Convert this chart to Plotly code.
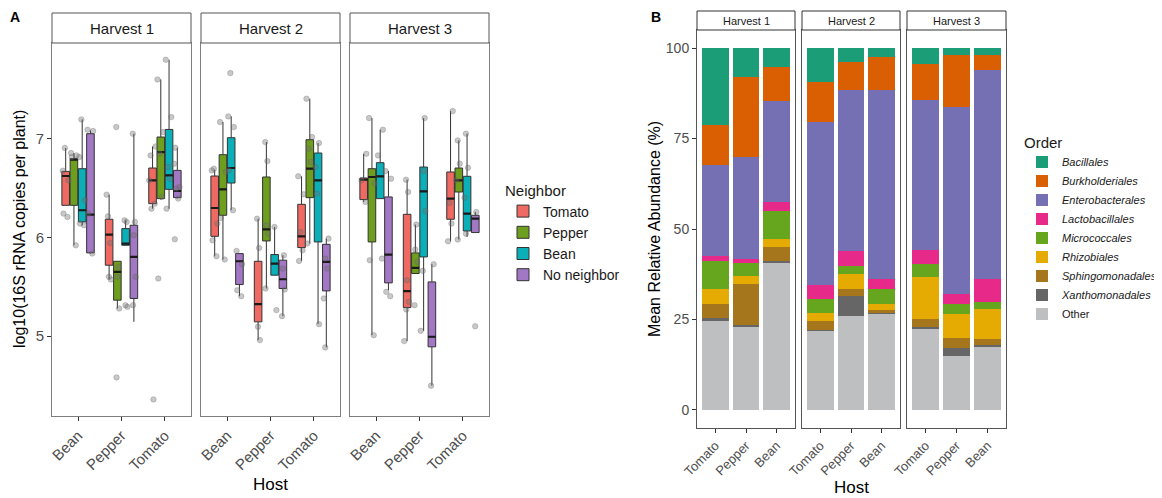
import plotly.graph_objects as go

# ---------------- DATA ----------------
harvests = ["Harvest 1", "Harvest 2", "Harvest 3"]
hosts_a = ["Bean", "Pepper", "Tomato"]
neighbors = ["Tomato", "Pepper", "Bean", "No neighbor"]
neighbor_colors = ["#EE6A62", "#6E9E1E", "#0AAFB8", "#A277C4"]

# box statistics, indexed [harvest][neighbor][host]
upper = [
    [[6.906, 6.433, 6.922], [6.855, 5.758, 7.601], [7.196, 6.173, 7.800], [7.084, 7.051, 6.909]],
    [[6.686, 6.190, 6.619], [7.169, 6.966, 7.405], [7.226, 6.106, 6.956], [5.836, 5.819, 5.988]],
    [[6.848, 6.585, 7.280], [7.209, 6.130, 6.983], [7.091, 7.209, 7.051], [6.673, 5.728, 6.258]],
]
q3 = [
    [[6.669, 6.184, 6.703], [6.798, 5.758, 7.017], [6.696, 6.089, 7.094], [7.051, 6.123, 6.679]],
    [[6.622, 5.758, 6.335], [6.838, 6.612, 6.990], [7.010, 5.826, 6.855], [5.836, 5.769, 5.930]],
    [[6.602, 6.234, 6.663], [6.696, 5.843, 6.703], [6.757, 6.713, 6.619], [6.410, 5.549, 6.224]],
]
median = [
    [[6.622, 6.028, 6.578], [6.787, 5.650, 6.865], [6.275, 5.937, 6.629], [6.231, 5.802, 6.470]],
    [[6.298, 5.323, 6.011], [6.487, 6.082, 6.696], [6.703, 5.735, 6.578], [5.758, 5.576, 5.752]],
    [[6.585, 5.455, 6.393], [6.612, 5.691, 6.578], [6.619, 6.467, 6.241], [5.826, 4.993, 6.190]],
]
q1 = [
    [[6.325, 5.718, 6.342], [6.325, 5.364, 6.393], [6.157, 5.920, 6.487], [5.843, 5.381, 6.403]],
    [[6.011, 5.144, 5.897], [6.224, 5.964, 6.403], [6.551, 5.617, 5.954], [5.522, 5.482, 5.458]],
    [[6.383, 5.289, 6.184], [5.954, 5.634, 6.460], [6.393, 5.802, 6.065], [5.539, 4.891, 6.049]],
]
lower = [
    [[6.325, 5.573, 6.291], [5.920, 5.279, 6.383], [6.123, 5.920, 6.291], [5.836, 5.144, 6.393]],
    [[5.809, 4.959, 5.762], [5.775, 5.482, 5.937], [6.275, 5.617, 5.121], [5.404, 5.202, 4.885]],
    [[6.359, 4.949, 5.961], [5.009, 5.634, 5.978], [6.393, 5.053, 6.005], [5.465, 4.497, 6.049]],
]
# individual plants, indexed [harvest][neighbor][host]
points = [
    [
        [[6.906, 6.676, 6.578, 6.241, 6.207], [6.433, 6.214, 5.944, 5.600, 5.573], [6.922, 6.831, 6.578, 6.342, 6.291, 4.358]],
        [[6.855, 6.831, 6.814, 5.920], [7.118, 5.701, 5.600, 5.279, 4.581], [7.601, 7.067, 6.848, 6.410, 5.583]],
        [[7.196, 6.814, 6.376, 6.140, 6.123], [6.173, 6.157, 5.313, 5.296], [7.800, 7.219, 6.713, 6.595, 6.291]],
        [[7.091, 7.078, 6.241, 5.836], [7.051, 6.157, 6.022, 5.600, 5.313], [6.909, 6.747, 6.511, 6.494, 6.393, 5.981]],
    ],
    [
        [[6.696, 6.679, 6.140, 5.971, 5.809], [6.190, 5.893, 5.094, 4.959], [6.619, 6.437, 6.055, 5.870, 5.762]],
        [[7.169, 6.663, 6.197, 5.775], [6.966, 6.774, 6.123, 6.038, 5.482], [7.405, 7.017, 6.899, 6.764, 5.937]],
        [[7.665, 7.226, 7.118, 6.680, 6.275], [6.106, 5.263], [6.956, 6.713, 6.443, 5.121]],
        [[5.863, 5.728, 5.465, 5.404], [5.819, 5.684, 5.472, 5.202], [5.988, 5.785, 5.684, 5.381, 4.885]],
    ],
    [
        [[6.848, 6.578, 6.359], [6.585, 6.460, 5.566, 5.347, 5.270, 4.949], [7.280, 6.349, 6.140, 5.961]],
        [[7.209, 6.545, 5.769, 5.009], [6.130, 5.877, 5.752, 5.313], [6.983, 6.747, 6.578, 5.978]],
        [[7.091, 6.831, 5.785], [7.209, 6.673, 6.268, 5.661, 5.053], [7.051, 6.706, 6.403, 6.038]],
        [[6.673, 6.595, 5.448, 5.404], [5.728, 4.497], [6.258, 5.100]],
    ],
]

# Panel B: mean relative abundance (%), indexed [harvest][host]
hosts_b = ["Tomato", "Pepper", "Bean"]
order_names = ["Bacillales", "Burkholderiales", "Enterobacterales", "Lactobacillales",
               "Micrococcales", "Rhizobiales", "Sphingomonadales", "Xanthomonadales", "Other"]
order_colors = ["#1B9E77", "#D95F02", "#7570B3", "#E7298A", "#66A61E",
                "#E6AB02", "#A6761D", "#666666", "#BEBFC0"]
bacillales = [[21.3, 8.0, 5.1], [9.5, 3.9, 2.5], [4.3, 2.0, 2.0]]
burkholderiales = [[11.0, 22.2, 9.5], [10.8, 7.6, 9.0], [10.0, 14.2, 4.0]]
enterobacterales = [[25.2, 28.2, 27.9], [45.3, 44.5, 52.2], [41.4, 51.7, 57.9]]
lactobacillales = [[1.4, 1.1, 2.6], [3.7, 4.2, 2.8], [3.9, 2.7, 6.3]]
micrococcales = [[7.8, 3.6, 7.8], [3.8, 2.3, 4.1], [3.8, 3.0, 2.0]]
rhizobiales = [[4.0, 2.2, 2.0], [2.4, 4.0, 1.9], [11.4, 6.5, 8.1]]
sphingomonadales = [[4.0, 11.1, 4.0], [2.3, 2.1, 0.7], [2.3, 2.8, 1.7]]
xanthomonadales = [[0.6, 0.6, 0.4], [0.2, 5.5, 0.2], [0.3, 2.3, 0.6]]
other = [[24.7, 23.0, 40.7], [22.0, 25.9, 26.6], [22.6, 14.8, 17.4]]
order_values = [bacillales, burkholderiales, enterobacterales, lactobacillales,
                micrococcales, rhizobiales, sphingomonadales, xanthomonadales, other]

# ---------------- LAYOUT HELPERS ----------------
W, H = 1162, 498
OFF = 8  # page body margin in the browser
def px(x): return (x - OFF) / W
def py(y): return 1 - (y - OFF) / H

FONT = "Liberation Sans, Arial, sans-serif"
panelA_x = [(52, 191), (201, 340), (350, 489)]
panelA_y = (43, 416)
panelB_x = [(697, 795), (802, 900), (907, 1006)]
panelB_y = (30, 428)

fig = go.Figure()

def ax(i):
    return "" if i == 1 else str(i)

# ---------------- PANEL A ----------------
for h in range(3):
    xa, ya = "x" + ax(h + 1), "y" + ax(h + 1)
    for n, nb in enumerate(neighbors):
        fig.add_trace(go.Box(
            x=hosts_a, q1=q1[h][n], median=median[h][n], q3=q3[h][n],
            lowerfence=lower[h][n], upperfence=upper[h][n],
            name=nb, offsetgroup=nb, showlegend=(h == 0), legend="legend",
            fillcolor=neighbor_colors[n], line=dict(color="#333333", width=1),
            whiskerwidth=0, boxpoints=False, xaxis=xa, yaxis=ya))
    for n, nb in enumerate(neighbors):
        fig.add_trace(go.Box(
            x=hosts_a, q1=median[h][n], median=median[h][n], q3=median[h][n],
            lowerfence=median[h][n], upperfence=median[h][n],
            name=nb, offsetgroup=nb, showlegend=False,
            fillcolor="rgba(0,0,0,0)", line=dict(color="#1a1a1a", width=2.2),
            whiskerwidth=0, boxpoints=False, xaxis=xa, yaxis=ya, hoverinfo="skip"))
    for n, nb in enumerate(neighbors):
        xs, ys = [], []
        for k, host in enumerate(hosts_a):
            for v in points[h][n][k]:
                xs.append(host)
                ys.append(v)
        fig.add_trace(go.Box(
            x=xs, y=ys, name=nb, offsetgroup=nb, showlegend=False,
            boxpoints="all", jitter=0.9, pointpos=0,
            fillcolor="rgba(0,0,0,0)", line=dict(color="rgba(0,0,0,0)", width=0),
            whiskerwidth=0,
            marker=dict(color="rgba(110,110,110,0.38)", size=5.5,
                        line=dict(color="rgba(90,90,90,0.45)", width=0.6)),
            xaxis=xa, yaxis=ya))

# ---------------- PANEL B ----------------
for h in range(3):
    xa, ya = "x" + str(h + 4), "y" + str(h + 4)
    for j in reversed(range(len(order_names))):
        nm = order_names[j]
        label = nm if nm == "Other" else "<i>%s</i>" % nm
        fig.add_trace(go.Bar(
            x=hosts_b, y=order_values[j][h], name=label,
            marker=dict(color=order_colors[j], line=dict(width=0)),
            showlegend=(h == 0), legend="legend2", legendrank=j + 1,
            xaxis=xa, yaxis=ya))

# ---------------- AXES ----------------
common_x = dict(type="category", range=[-0.6, 2.6], showgrid=False, zeroline=False,
                showline=True, mirror=True, linewidth=1, ticks="outside", ticklen=4,
                tickcolor="#333333", tickangle=-45, automargin=False)
layout_axes = {}
for i in range(3):
    layout_axes["xaxis" + ax(i + 1)] = dict(
        common_x, domain=[px(panelA_x[i][0]), px(panelA_x[i][1])],
        anchor="y" + ax(i + 1), linecolor="#7f7f7f",
        categoryorder="array", categoryarray=hosts_a,
        tickfont=dict(size=15, color="#4d4d4d", family=FONT))
    ycfg = dict(domain=[py(panelA_y[1]), py(panelA_y[0])], range=[4.19, 7.97],
                anchor="x" + ax(i + 1), showgrid=False, zeroline=False, automargin=False,
                showline=True, mirror=True, linewidth=1, linecolor="#7f7f7f")
    if i == 0:
        ycfg.update(tickvals=[5, 6, 7], ticks="outside", ticklen=4, tickcolor="#333333",
                    tickfont=dict(size=15, color="#4d4d4d", family=FONT))
    else:
        ycfg.update(matches="y", showticklabels=False, ticks="")
    layout_axes["yaxis" + ax(i + 1)] = ycfg

for i in range(3):
    k = str(i + 4)
    layout_axes["xaxis" + k] = dict(
        common_x, domain=[px(panelB_x[i][0]), px(panelB_x[i][1])],
        anchor="y" + k, linecolor="#555555",
        categoryorder="array", categoryarray=hosts_b,
        tickfont=dict(size=13, color="#4d4d4d", family=FONT))
    ycfg = dict(domain=[py(panelB_y[1]), py(panelB_y[0])], range=[-5, 105],
                anchor="x" + k, showgrid=False, zeroline=False, automargin=False,
                showline=True, mirror=True, linewidth=1, linecolor="#555555")
    if i == 0:
        ycfg.update(tickvals=[0, 25, 50, 75, 100], ticks="outside", ticklen=4,
                    tickcolor="#333333",
                    tickfont=dict(size=14, color="#4d4d4d", family=FONT))
    else:
        ycfg.update(matches="y4", showticklabels=False, ticks="")
    layout_axes["yaxis" + k] = ycfg

# ---------------- STRIPS / TEXT ----------------
shapes, annots = [], []
def note(text, x, y, size, angle=0, color="#1a1a1a"):
    return dict(text=text, x=px(x), y=py(y), xref="paper", yref="paper",
                xanchor="center", yanchor="middle", showarrow=False,
                textangle=angle, font=dict(size=size, color=color))

for i in range(3):
    x0, x1 = panelA_x[i]
    shapes.append(dict(type="rect", xref="paper", yref="paper", x0=px(x0), x1=px(x1),
                       y0=py(43), y1=py(13), line=dict(color="#555555", width=1),
                       fillcolor="white", layer="above"))
    annots.append(note(harvests[i], (x0 + x1) / 2, 28.5, 15))
    x0, x1 = panelB_x[i]
    shapes.append(dict(type="rect", xref="paper", yref="paper", x0=px(x0), x1=px(x1),
                       y0=py(30), y1=py(11), line=dict(color="#333333", width=1),
                       fillcolor="white", layer="above"))
    annots.append(note(harvests[i], (x0 + x1) / 2, 21, 11))

annots += [
    note("<b>A</b>", 15, 17, 14, color="black"),
    note("<b>B</b>", 656, 17, 14, color="black"),
    note("log10(16S rRNA copies per plant)", 20, 229, 16, angle=-90, color="black"),
    note("Host", 270, 484, 17, color="black"),
    note("Mean Relative Abundance (%)", 655, 229, 16, angle=-90, color="black"),
    note("Host", 851, 487, 17, color="black"),
]

fig.update_layout(
    template="none",
    width=W, height=H, margin=dict(l=0, r=0, t=0, b=0, pad=0, autoexpand=False),
    paper_bgcolor="white", plot_bgcolor="white",
    font=dict(family=FONT, color="#1a1a1a"),
    boxmode="group", boxgap=0.24, boxgroupgap=0.08,
    barmode="stack", bargap=0.12,
    shapes=shapes, annotations=annots,
    legend=dict(x=px(503), y=py(176), xanchor="left", yanchor="top",
                title=dict(text="Neighbor", font=dict(size=15)),
                font=dict(size=14), bgcolor="rgba(0,0,0,0)", tracegroupgap=0,
                itemwidth=30, traceorder="normal"),
    legend2=dict(x=px(1022), y=py(128), xanchor="left", yanchor="top",
                 title=dict(text="Order", font=dict(size=15)),
                 font=dict(size=11), bgcolor="rgba(0,0,0,0)", tracegroupgap=0,
                 itemwidth=30, traceorder="normal"),
    **layout_axes,
)

fig.write_html("out.html")
